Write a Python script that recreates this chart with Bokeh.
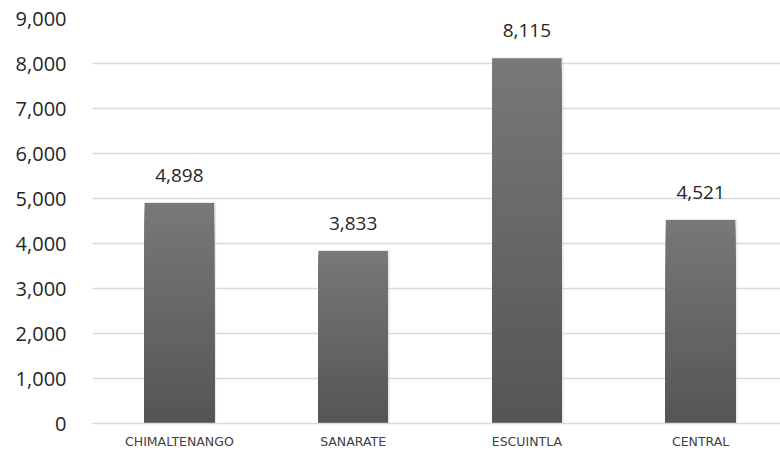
from bokeh.plotting import figure
from bokeh.models import Range1d, ColumnDataSource, FixedTicker, NumeralTickFormatter
from bokeh.core.properties import value
from bokeh.embed import file_html
from bokeh.resources import INLINE

categories = ["CHIMALTENANGO", "SANARATE", "ESCUINTLA", "CENTRAL"]
values = [4898, 3833, 8115, 4521]
y_ticks = [0, 1000, 2000, 3000, 4000, 5000, 6000, 7000, 8000, 9000]

NUM_FONT = "Open Sans"
CAT_FONT = "DejaVu Sans"

p = figure(width=780, height=452, output_backend="svg", toolbar_location=None,
           x_range=Range1d(-0.5, 3.46), y_range=Range1d(0, 9000),
           min_border_left=92, min_border_right=0, min_border_top=18, min_border_bottom=29)
p.outline_line_color = None
p.background_fill_color = "white"
p.border_fill_color = "white"

xs = list(range(len(categories)))

# soft shadow behind bars
p.vbar(x=[x + 0.006 for x in xs], width=0.412, bottom=0, top=[v + 25 for v in values],
       fill_color="#d0d0d0", fill_alpha=0.45, line_color=None)

# gradient bars (bottom darker, top lighter); nested from full height down
N = 40
def mix(a, b, t):
    return "#%02x%02x%02x" % tuple(int(round(a[i] + (b[i] - a[i]) * t)) for i in range(3))
bot_c = (0x55, 0x55, 0x55)
top_c = (0x78, 0x78, 0x78)
sx, st, sc = [], [], []
for i, v in enumerate(values):
    for k in range(N, 0, -1):
        sx.append(i)
        st.append(v * k / N)
        sc.append(mix(bot_c, top_c, (k - 0.5) / N))
src = ColumnDataSource(dict(x=sx, top=st, color=sc))
p.vbar(x="x", width=0.40, bottom=0, top="top", fill_color="color",
       line_color=None, source=src)

# value labels
lab = ColumnDataSource(dict(x=xs, y=values, t=[f"{v:,}" for v in values]))
p.text(x="x", y="y", text="t", source=lab, text_align="center", text_baseline="middle",
       y_offset=-28, text_font=value(NUM_FONT), text_font_size="19px", text_color="#262626")

# axes
p.yaxis.ticker = FixedTicker(ticks=y_ticks)
p.yaxis.formatter = NumeralTickFormatter(format="0,0")
p.yaxis.axis_line_color = None
p.yaxis.major_tick_line_color = None
p.yaxis.minor_tick_line_color = None
p.yaxis.major_label_text_font = NUM_FONT
p.yaxis.major_label_text_font_size = "20px"
p.yaxis.major_label_text_color = "#262626"
p.yaxis.major_label_standoff = 20

p.xaxis.ticker = FixedTicker(ticks=xs)
p.xaxis.major_label_overrides = {i: c for i, c in enumerate(categories)}
p.xaxis.axis_line_color = "#d9d9d9"
p.xaxis.axis_line_width = 1.5
p.xaxis.major_tick_line_color = None
p.xaxis.minor_tick_line_color = None
p.xaxis.major_label_text_font = CAT_FONT
p.xaxis.major_label_text_font_size = "12.5px"
p.xaxis.major_label_text_color = "#404040"
p.xaxis.major_label_standoff = 4

p.xgrid.grid_line_color = None
p.ygrid.grid_line_color = "#d9d9d9"
p.ygrid.grid_line_width = 1.5

open("out.html", "w").write(file_html(p, INLINE))
